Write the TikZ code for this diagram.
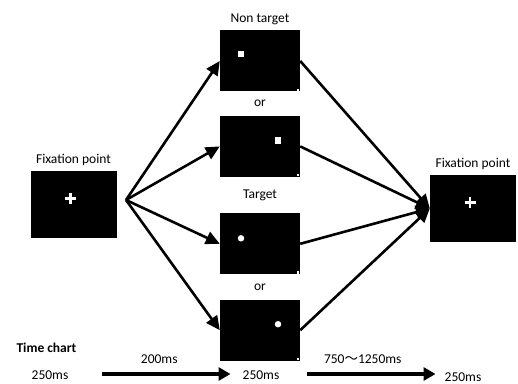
\documentclass[tikz,border=0pt]{standalone}
\usepackage{fontspec}
\setmainfont{Carlito}
\newfontfamily\cjk{Noto Sans CJK JP}
\usetikzlibrary{arrows.meta, positioning, calc}

\begin{document}
\begin{tikzpicture}[
    x=1pt, y=1pt,
    node distance=24pt,
    font=\fontsize{13.5}{15}\selectfont,
    screen/.style={rectangle, fill=black, minimum width=80pt, minimum height=61pt, inner sep=0pt},
    fixscreen/.style={rectangle, fill=black, minimum width=86pt, minimum height=67pt, inner sep=0pt},
    lbl/.style={inner sep=1pt},
    tlbl/.style={inner sep=0pt, anchor=base},
    sq/.style={rectangle, fill=white, minimum size=6.5pt, inner sep=0pt},
    dot/.style={circle, fill=white, minimum size=6.5pt, inner sep=0pt},
    corner/.style={rectangle, fill=white, minimum size=2.2pt, inner sep=0pt},
    arrow/.style={-{Triangle[length=14pt, width=13pt]}, line width=2.6pt},
    tarrow/.style={-{Triangle[length=12pt, width=13pt]}, line width=3.6pt}
]
\useasboundingbox (0,0) rectangle (518,383);

% Fixation screens
\node[fixscreen] (fixA) at (73.5,178.5) {};
\node[fixscreen] (fixB) at (473,174.5) {};
\node[lbl, above=4pt of fixA] {Fixation point};
\node[lbl, above=4pt of fixB] {Fixation point};
\foreach \f in {fixA, fixB}
    \draw[white, line width=2.1pt] ($(\f.center)+(-8.5,6)$) -- +(11,0)
                                   ($(\f.center)+(-3,0.5)$) -- +(0,11);

% Stimulus screens
\node[screen] (nt1) at (260,322) {};
\node[screen, below=24pt of nt1] (nt2) {};
\node[screen, below=36pt of nt2] (tg1) {};
\node[screen, below=25pt of tg1] (tg2) {};

\node[sq] at ($(nt1.center)+(-19,7)$) {};
\node[sq] at ($(nt2.center)+(18,6)$) {};
\node[dot] at ($(tg1.center)+(-19,5.5)$) {};
\node[dot] at ($(tg2.center)+(18,6)$) {};
\foreach \s in {nt1, nt2, tg1, tg2}
    \node[corner] at ($(\s.south east)+(-2,2)$) {};

% Labels
\node[lbl, above=4pt of nt1] {Non target};
\node[lbl] at ($(nt1.south)!0.5!(nt2.north)$) {or};
\node[lbl] at ($(nt2.south)!0.5!(tg1.north)$) {Target};
\node[lbl] at ($(tg1.south)!0.5!(tg2.north)$) {or};

% Arrows
\coordinate (fork) at (126,183);
\foreach \s in {nt1, nt2, tg1, tg2} {
    \draw[arrow] (fork) -- (\s.west);
    \draw[arrow] (\s.east) -- (fixB.west);
}

% Time chart
\node[font=\fontsize{13.5}{15}\selectfont\bfseries, anchor=west] (chart) at (13,35) {Time chart};
\node[tlbl] (t1) at (50,3.5) {250ms};
\node[tlbl] (t2) at (261,3.5) {250ms};
\node[tlbl] (t3) at (463,2) {250ms};
\coordinate (a1s) at (102,9);
\coordinate (a2s) at (307,9);
\draw[tarrow, shorten >=12pt] (a1s) -- (a1s -| t2.west)
    node[midway, above=5pt, xshift=-13pt] {200ms};
\draw[tarrow, shorten >=9pt] (a2s) -- (a2s -| t3.west)
    node[midway, above=5pt, xshift=-13pt] {750{\cjk ～}1250ms};
\end{tikzpicture}
\end{document}
